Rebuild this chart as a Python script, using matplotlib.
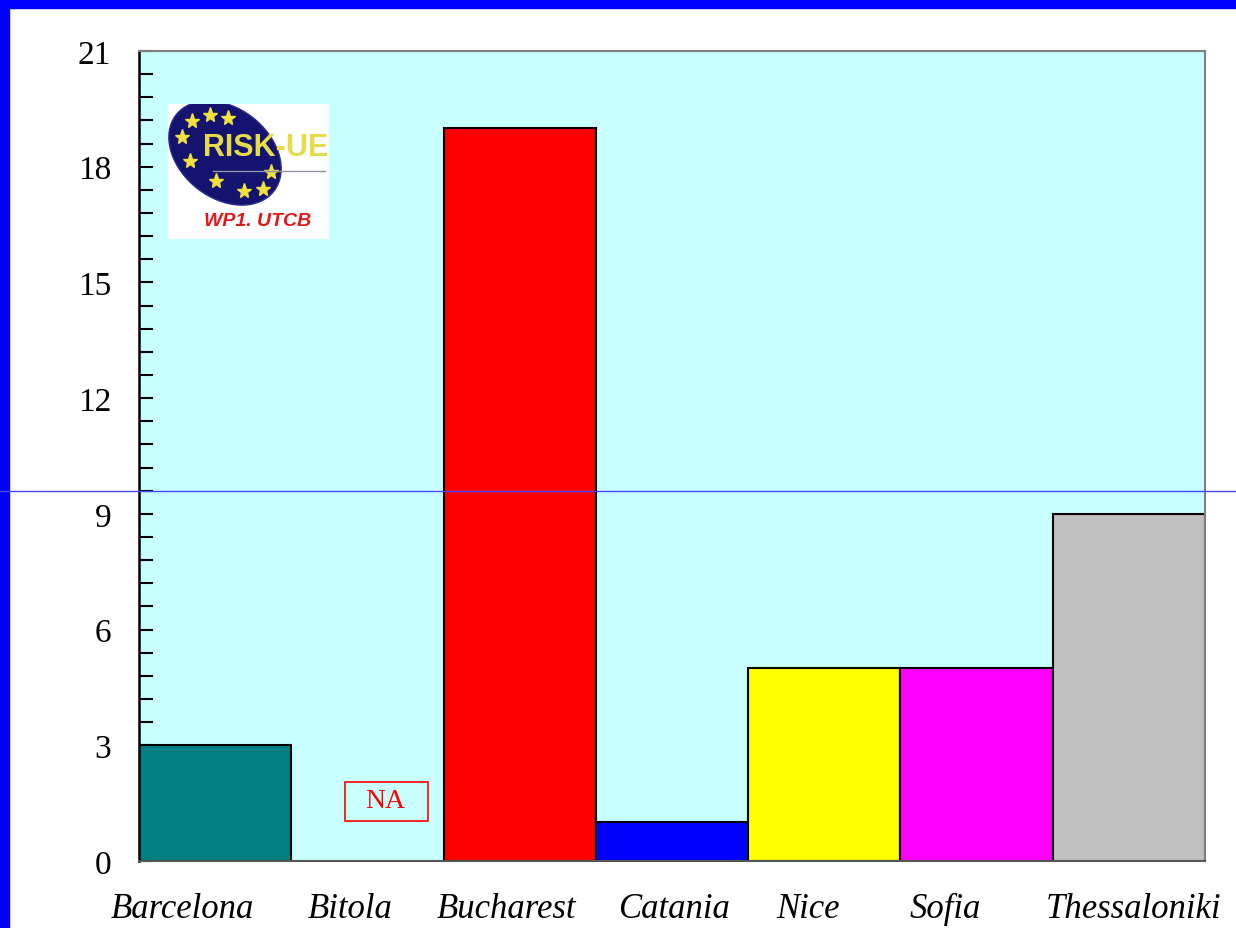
import matplotlib
matplotlib.use("Agg")
import matplotlib.pyplot as plt
from matplotlib.patches import Ellipse, Rectangle
from matplotlib.lines import Line2D
from matplotlib.ticker import MultipleLocator
from matplotlib.transforms import ScaledTranslation, blended_transform_factory

# Data
cities = ["Barcelona", "Bitola", "Bucharest", "Catania", "Nice", "Sofia", "Thessaloniki"]
values = [3, None, 19, 1, 5, 5, 9]
colors = ["#008080", "#C8FFFF", "#FF0000", "#0000FF", "#FFFF00", "#FF00FF", "#C0C0C0"]
yticks = [0, 3, 6, 9, 12, 15, 18, 21]

# horizontal nudges (pixels) of the category labels
label_shift = [-33, -17, -13, 2, -16, -31, 5]

W, H = 1236, 929
fig = plt.figure(figsize=(W / 100, H / 100), dpi=100, facecolor="white")

# Blue frame at top and left
fig.patches.append(Rectangle((0, 1 - 9 / H), 1, 9 / H, transform=fig.transFigure,
                             color="#0000FF", zorder=0))
fig.patches.append(Rectangle((0, 0), 9 / W, 1, transform=fig.transFigure,
                             color="#0000FF", zorder=0))

ax = fig.add_axes([139 / W, 1 - 862 / H, (1205 - 139) / W, (862 - 52) / H])
ax.set_facecolor("#C8FFFF")

x = list(range(len(cities)))
for xi, v, c in zip(x, values, colors):
    if v is None:
        continue
    ax.bar(xi, v, width=1.0, color=c, edgecolor="black", linewidth=1.5, zorder=2)

ax.set_xlim(-0.5, len(cities) - 0.5)
ax.set_ylim(0, 21)
ax.set_yticks(yticks)
ax.yaxis.set_minor_locator(MultipleLocator(0.6))
ax.set_xticks(x)
ax.set_xticklabels([])
for lab in ax.get_yticklabels():
    lab.set_family("Liberation Serif")
    lab.set_fontsize(24)

# category names under the axis
base = blended_transform_factory(ax.transData, ax.transAxes)
for xi, name, dx in zip(x, cities, label_shift):
    tr = base + ScaledTranslation(dx / 100, -0.56, fig.dpi_scale_trans)
    ax.text(xi, 0, name, transform=tr, family="Liberation Serif", style="italic",
            fontsize=25, ha="center", va="baseline", clip_on=False)

ax.tick_params(axis="y", which="both", direction="in", length=10, width=1.5,
               color="black", pad=20, left=True, right=False)
ax.tick_params(axis="x", which="both", length=0)

for side in ["top", "right", "bottom"]:
    ax.spines[side].set_color("#7f7f7f")
    ax.spines[side].set_linewidth(1.5)
ax.spines["left"].set_color("black")
ax.spines["left"].set_linewidth(1.8)
ax.spines["bottom"].set_color("#555555")

# "NA" marker for Bitola
ax.add_patch(Rectangle((0.85, 1.04), 0.545, 1.0, fill=False, edgecolor="#FF0000",
                       linewidth=1.2, zorder=3))
ax.text(1.12, 1.57, "NA", color="#FF0000", family="Liberation Serif",
        fontsize=20, ha="center", va="center", zorder=3)

# Thin horizontal rule across the page
fig.lines.append(Line2D([0, 1], [1 - 492 / H, 1 - 492 / H], transform=fig.transFigure,
                        color="#4848FF", linewidth=1.0, zorder=10))

# RISK-UE logo
lx, ly, lw, lh = 168, 105, 161, 135
lax = fig.add_axes([lx / W, 1 - (ly + lh) / H, lw / W, lh / H])
lax.set_xlim(0, lw)
lax.set_ylim(0, lh)
lax.set_facecolor("white")
for s in lax.spines.values():
    s.set_visible(False)
lax.set_xticks([])
lax.set_yticks([])
lax.add_patch(Ellipse((57, 86), 124, 90, angle=-38, facecolor="#141470",
                      edgecolor="#2a2a90", linewidth=1))
star_x = [24, 42, 60, 14, 22, 48, 76, 95, 103]
star_y = [118, 124, 121, 102, 78, 58, 48, 50, 67]
lax.plot(star_x, star_y, "*", color="#F0E040", markersize=11, linestyle="none")
lax.plot([45, 157], [68, 68], color="#9090a0", linewidth=1)
lax.text(98, 92, "RISK-UE", color="#E6DC48", fontsize=22, fontweight="bold",
         family="Liberation Sans", ha="center", va="center")
lax.text(90, 18, "WP1. UTCB", color="#E01818", fontsize=14, fontweight="bold",
         style="italic", family="Liberation Sans", ha="center", va="center")

fig.savefig("out.png", dpi=100, facecolor="white")
